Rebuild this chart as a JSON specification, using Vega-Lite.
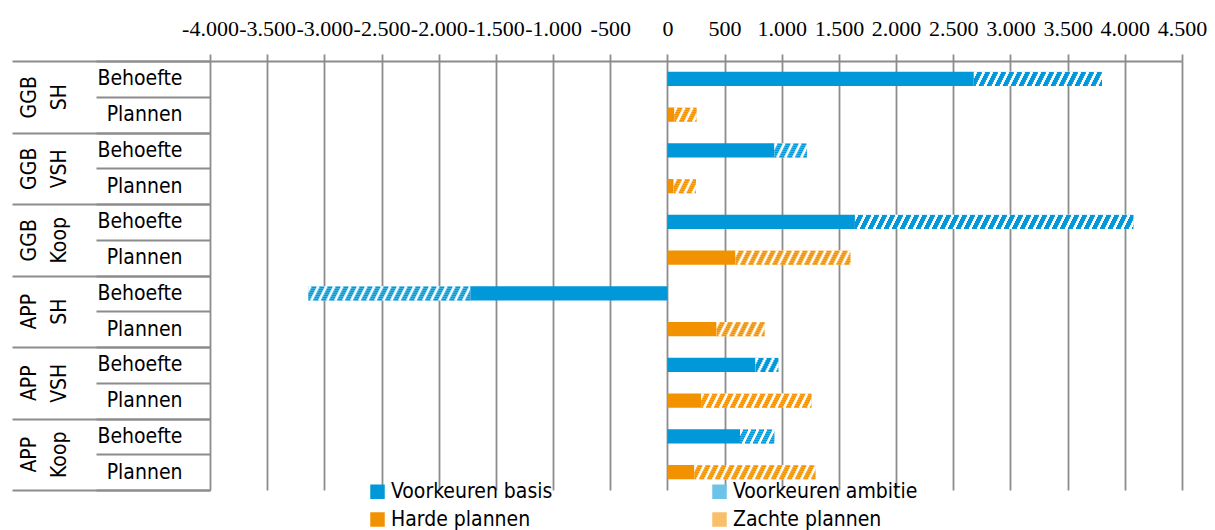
{
  "$schema": "https://vega.github.io/schema/vega-lite/v6.json",
  "autosize": {"type": "none"},
  "width": 972,
  "height": 429,
  "padding": {"left": 210, "top": 61, "right": 33, "bottom": 40},
  "background": "white",
  "config": {"view": {"stroke": null}, "font": "DejaVu Sans Condensed"},
  "data": {"values": [
    {"group": "GGB SH", "sub": "Behoefte", "row": "GGB SH|Behoefte", "series": "Voorkeuren basis", "from": 0, "to": 2680},
    {"group": "GGB SH", "sub": "Behoefte", "row": "GGB SH|Behoefte", "series": "Voorkeuren ambitie", "from": 2680, "to": 3800},
    {"group": "GGB SH", "sub": "Plannen", "row": "GGB SH|Plannen", "series": "Harde plannen", "from": 0, "to": 60},
    {"group": "GGB SH", "sub": "Plannen", "row": "GGB SH|Plannen", "series": "Zachte plannen", "from": 60, "to": 255},
    {"group": "GGB VSH", "sub": "Behoefte", "row": "GGB VSH|Behoefte", "series": "Voorkeuren basis", "from": 0, "to": 935},
    {"group": "GGB VSH", "sub": "Behoefte", "row": "GGB VSH|Behoefte", "series": "Voorkeuren ambitie", "from": 935, "to": 1220},
    {"group": "GGB VSH", "sub": "Plannen", "row": "GGB VSH|Plannen", "series": "Harde plannen", "from": 0, "to": 55},
    {"group": "GGB VSH", "sub": "Plannen", "row": "GGB VSH|Plannen", "series": "Zachte plannen", "from": 55, "to": 250},
    {"group": "GGB Koop", "sub": "Behoefte", "row": "GGB Koop|Behoefte", "series": "Voorkeuren basis", "from": 0, "to": 1640},
    {"group": "GGB Koop", "sub": "Behoefte", "row": "GGB Koop|Behoefte", "series": "Voorkeuren ambitie", "from": 1640, "to": 4075},
    {"group": "GGB Koop", "sub": "Plannen", "row": "GGB Koop|Plannen", "series": "Harde plannen", "from": 0, "to": 595},
    {"group": "GGB Koop", "sub": "Plannen", "row": "GGB Koop|Plannen", "series": "Zachte plannen", "from": 595, "to": 1600},
    {"group": "APP SH", "sub": "Behoefte", "row": "APP SH|Behoefte", "series": "Voorkeuren basis", "from": -1725, "to": 0},
    {"group": "APP SH", "sub": "Behoefte", "row": "APP SH|Behoefte", "series": "Voorkeuren ambitie", "from": -3140, "to": -1725},
    {"group": "APP SH", "sub": "Plannen", "row": "APP SH|Plannen", "series": "Harde plannen", "from": 0, "to": 430},
    {"group": "APP SH", "sub": "Plannen", "row": "APP SH|Plannen", "series": "Zachte plannen", "from": 430, "to": 850},
    {"group": "APP VSH", "sub": "Behoefte", "row": "APP VSH|Behoefte", "series": "Voorkeuren basis", "from": 0, "to": 770},
    {"group": "APP VSH", "sub": "Behoefte", "row": "APP VSH|Behoefte", "series": "Voorkeuren ambitie", "from": 770, "to": 970},
    {"group": "APP VSH", "sub": "Plannen", "row": "APP VSH|Plannen", "series": "Harde plannen", "from": 0, "to": 295},
    {"group": "APP VSH", "sub": "Plannen", "row": "APP VSH|Plannen", "series": "Zachte plannen", "from": 295, "to": 1260},
    {"group": "APP Koop", "sub": "Behoefte", "row": "APP Koop|Behoefte", "series": "Voorkeuren basis", "from": 0, "to": 635},
    {"group": "APP Koop", "sub": "Behoefte", "row": "APP Koop|Behoefte", "series": "Voorkeuren ambitie", "from": 635, "to": 935},
    {"group": "APP Koop", "sub": "Plannen", "row": "APP Koop|Plannen", "series": "Harde plannen", "from": 0, "to": 235},
    {"group": "APP Koop", "sub": "Plannen", "row": "APP Koop|Plannen", "series": "Zachte plannen", "from": 235, "to": 1295}
  ]},
  "layer": [
    {
      "encoding": {
        "y": {
          "field": "row", "type": "nominal",
          "scale": {
            "domain": ["GGB SH|Behoefte", "GGB SH|Plannen", "GGB VSH|Behoefte", "GGB VSH|Plannen", "GGB Koop|Behoefte", "GGB Koop|Plannen", "APP SH|Behoefte", "APP SH|Plannen", "APP VSH|Behoefte", "APP VSH|Plannen", "APP Koop|Behoefte", "APP Koop|Plannen"],
            "paddingInner": 0, "paddingOuter": 0
          },
          "axis": {
            "orient": "left", "title": null, "domain": false, "grid": false,
            "tickBand": "extent", "tickSize": 114, "tickColor": "#8c8c8c", "tickWidth": 2,
            "labelExpr": "split(datum.label, '|')[1]",
            "labelFont": "DejaVu Sans Condensed", "labelFontSize": 21, "labelColor": "#000000",
            "labelPadding": -86, "labelAlign": "right", "labelBaseline": "middle", "labelLimit": 0
          }
        },
        "x": {
          "field": "from", "type": "quantitative",
          "scale": {"domain": [-4000, 4500], "nice": false, "zero": false},
          "axis": {
            "orient": "top", "title": null,
            "values": [-4000, -3500, -3000, -2500, -2000, -1500, -1000, -500, 0, 500, 1000, 1500, 2000, 2500, 3000, 3500, 4000, 4500],
            "labelExpr": "(datum.value < 0 ? '-' : '') + replace(format(abs(datum.value), ','), ',', '.')",
            "grid": true, "gridColor": "#8c8c8c", "gridWidth": 1.8,
            "tickSize": 7, "tickColor": "#8c8c8c", "tickWidth": 1.8,
            "domainColor": "#8c8c8c", "domainWidth": 1.8,
            "labelFont": "Liberation Sans Narrow", "labelFontSize": 22, "labelColor": "#000000",
            "labelPadding": 14, "labelOverlap": false, "labelFlush": false, "labelBound": false
          }
        },
        "x2": {"field": "to"}
      },
      "layer": [
        {
          "mark": {"type": "bar", "height": {"band": 0.4}},
          "encoding": {
            "fill": {
              "field": "series", "type": "nominal",
              "scale": {
                "domain": ["Voorkeuren basis", "Harde plannen", "Voorkeuren ambitie", "Zachte plannen"],
                "range": ["#0098D8", "#F39200", "#6CC3E8", "#F8C06A"]
              },
              "legend": {
                "title": null, "orient": "none", "legendX": 157, "legendY": 420,
                "columns": 2, "columnPadding": 156, "rowPadding": 6,
                "symbolType": "square", "symbolSize": 210, "symbolStrokeWidth": 0, "symbolOpacity": 1,
                "labelFont": "DejaVu Sans Condensed", "labelFontSize": 21, "labelColor": "#000000",
                "labelOffset": 3, "labelLimit": 400
              }
            }
          }
        },
        {
          "transform": [{"filter": {"field": "series", "oneOf": ["Voorkeuren ambitie", "Zachte plannen"]}}],
          "mark": {"type": "bar", "height": {"band": 0.4}, "fill": "#ffffff"},
          "encoding": {}
        },
        {
          "transform": [{"filter": {"field": "series", "oneOf": ["Voorkeuren ambitie", "Zachte plannen"]}}],
          "mark": {"type": "rule", "strokeWidth": 2, "strokeCap": "butt", "strokeDash": [5, 3], "strokeDashOffset": -3, "yOffset": -6},
          "encoding": {"stroke": {"field": "series", "type": "nominal", "scale": {"domain": ["Voorkeuren ambitie", "Zachte plannen"], "range": ["#0098D8", "#F39200"]}, "legend": null}}
        },
        {
          "transform": [{"filter": {"field": "series", "oneOf": ["Voorkeuren ambitie", "Zachte plannen"]}}],
          "mark": {"type": "rule", "strokeWidth": 2, "strokeCap": "butt", "strokeDash": [5, 3], "strokeDashOffset": -2, "yOffset": -4},
          "encoding": {"stroke": {"field": "series", "type": "nominal", "legend": null}}
        },
        {
          "transform": [{"filter": {"field": "series", "oneOf": ["Voorkeuren ambitie", "Zachte plannen"]}}],
          "mark": {"type": "rule", "strokeWidth": 2, "strokeCap": "butt", "strokeDash": [5, 3], "strokeDashOffset": -1, "yOffset": -2},
          "encoding": {"stroke": {"field": "series", "type": "nominal", "legend": null}}
        },
        {
          "transform": [{"filter": {"field": "series", "oneOf": ["Voorkeuren ambitie", "Zachte plannen"]}}],
          "mark": {"type": "rule", "strokeWidth": 2, "strokeCap": "butt", "strokeDash": [5, 3], "strokeDashOffset": 0, "yOffset": 0},
          "encoding": {"stroke": {"field": "series", "type": "nominal", "legend": null}}
        },
        {
          "transform": [{"filter": {"field": "series", "oneOf": ["Voorkeuren ambitie", "Zachte plannen"]}}],
          "mark": {"type": "rule", "strokeWidth": 2, "strokeCap": "butt", "strokeDash": [5, 3], "strokeDashOffset": 1, "yOffset": 2},
          "encoding": {"stroke": {"field": "series", "type": "nominal", "legend": null}}
        },
        {
          "transform": [{"filter": {"field": "series", "oneOf": ["Voorkeuren ambitie", "Zachte plannen"]}}],
          "mark": {"type": "rule", "strokeWidth": 2, "strokeCap": "butt", "strokeDash": [5, 3], "strokeDashOffset": 2, "yOffset": 4},
          "encoding": {"stroke": {"field": "series", "type": "nominal", "legend": null}}
        },
        {
          "transform": [{"filter": {"field": "series", "oneOf": ["Voorkeuren ambitie", "Zachte plannen"]}}],
          "mark": {"type": "rule", "strokeWidth": 2, "strokeCap": "butt", "strokeDash": [5, 3], "strokeDashOffset": 3, "yOffset": 6},
          "encoding": {"stroke": {"field": "series", "type": "nominal", "legend": null}}
        }
      ]
    },
    {
      "mark": {"type": "tick", "opacity": 0},
      "encoding": {
        "y": {
          "field": "group", "type": "nominal",
          "scale": {"domain": ["GGB SH", "GGB VSH", "GGB Koop", "APP SH", "APP VSH", "APP Koop"], "paddingInner": 0, "paddingOuter": 0},
          "axis": {
            "orient": "left", "title": null, "domain": false, "grid": false,
            "tickBand": "extent", "tickSize": 198, "tickColor": "#8c8c8c", "tickWidth": 2,
            "labelExpr": "split(datum.label, ' ')",
            "labelAngle": 270, "labelAlign": "center", "labelBaseline": "middle", "labelLineHeight": 30,
            "labelFont": "DejaVu Sans Condensed", "labelFontSize": 21, "labelColor": "#000000",
            "labelPadding": -17, "labelLimit": 0
          }
        }
      }
    }
  ],
  "resolve": {"scale": {"y": "independent"}, "axis": {"y": "independent"}}
}
